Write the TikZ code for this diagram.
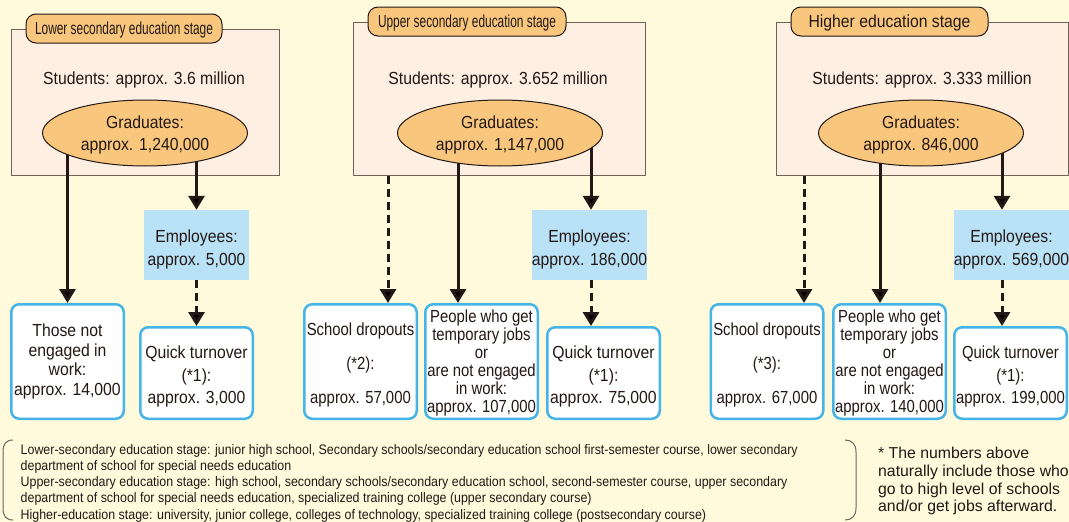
\documentclass[tikz,border=0pt]{standalone}
\usepackage{fontspec}
\setmainfont[FakeStretch=0.9]{Liberation Sans}
\newfontfamily\tagfont[FakeStretch=0.68]{Liberation Sans}
\newfontfamily\narrowfont[FakeStretch=0.85]{Liberation Sans}
\newfontfamily\notefont{Liberation Sans}
\usepackage{tikz}
\usetikzlibrary{shapes,arrows.meta,positioning,calc}
\definecolor{bgyellow}{HTML}{FFFADC}
\definecolor{stagefill}{HTML}{FDF0E3}
\definecolor{stageline}{HTML}{6E6259}
\definecolor{tagorange}{HTML}{F9C67E}
\definecolor{inkdark}{HTML}{231815}
\definecolor{empblue}{HTML}{BAE2F7}
\definecolor{resblue}{HTML}{45B5E8}
\pgfdeclarelayer{back}
\pgfdeclarelayer{mid}
\pgfsetlayers{back,mid,main}
% zero-width strut that lowers a block of lines
\newcommand{\padtop}[1]{\rule{0pt}{#1}}
\tikzset{
  stagebox/.style={draw=stageline,fill=stagefill,line width=1pt,minimum width=292pt,minimum height=153pt,inner sep=0pt},
  tagbox/.style={draw=inkdark,fill=tagorange,line width=1pt,rounded corners=10pt,minimum height=29pt,inner sep=0pt,text height=14pt,text depth=2pt,font=\tagfont\fontsize{17.5}{20}\selectfont},
  plain/.style={inner sep=0pt,font=\fontsize{17.5}{22}\selectfont},
  gradell/.style={ellipse,draw=inkdark,fill=tagorange,line width=1pt,minimum width=205pt,minimum height=66pt,inner sep=0pt,align=center,font=\fontsize{17.5}{22}\selectfont},
  empbox/.style={fill=empblue,minimum width=105pt,minimum height=70pt,inner sep=0pt,align=center,font=\fontsize{17.5}{23}\selectfont},
  resbox/.style={draw=resblue,fill=white,line width=2.5pt,rounded corners=8pt,minimum width=112.5pt,inner sep=0pt,align=center,font=\fontsize{17.5}{22.5}\selectfont},
  tallbox/.style={resbox,minimum height=114.5pt},
  lowbox/.style={resbox,minimum height=91.5pt},
  solidarr/.style={draw=inkdark,line width=3pt,-{Triangle[width=16pt,length=14pt]}},
  dasharr/.style={solidarr,dash pattern=on 8pt off 5pt},
}

\begin{document}
\begin{tikzpicture}[x=1pt,y=-1pt,color=inkdark]
  \useasboundingbox (0,0) rectangle (1069,522);

  % Background and stage frames
  \begin{pgfonlayer}{back}
    \fill[bgyellow] (0,0) rectangle (1069,522);
    \node[stagebox,minimum width=268pt,minimum height=146pt] (stgL) at (145,102) {};
    \node[stagebox] (stgU) at (499,98.5) {};
    \node[stagebox] (stgH) at (922,98.5) {};
  \end{pgfonlayer}

  % Stage tags
  \node[tagbox,anchor=west,minimum width=196pt] (tagL) at ([xshift=15pt]stgL.north west) {Lower secondary education stage};
  \node[tagbox,anchor=west,minimum width=198pt] (tagU) at ([xshift=15pt]stgU.north west) {Upper secondary education stage};
  \node[tagbox,anchor=west,minimum width=197pt,font=\fontsize{17.5}{20}\selectfont] (tagH) at ([xshift=15pt]stgH.north west) {Higher education stage};

  % Students
  \node[plain] (stuL) at (144,80) {Students: approx. 3.6 million};
  \node[plain] (stuU) at (498,80) {Students: approx. 3.652 million};
  \node[plain] (stuH) at (922,80) {Students: approx. 3.333 million};

  % Graduates
  \node[gradell] (gradL) at (145,133) {\padtop{17.5pt}Graduates:\\approx. 1,240,000};
  \node[gradell] (gradU) at (500,133) {\padtop{17.5pt}Graduates:\\approx. 1,147,000};
  \node[gradell] (gradH) at (921,133) {\padtop{17.5pt}Graduates:\\approx. 846,000};

  % Employees
  \node[empbox] (empL) at (196.5,245) {\padtop{22.5pt}Employees:\\approx. 5,000};
  \node[empbox] (empU) at (589.5,245) {\padtop{22.5pt}Employees:\\approx. 186,000};
  \node[empbox] (empH) at (1011.5,245) {\padtop{22.5pt}Employees:\\approx. 569,000};

  % Outcome boxes
  \node[tallbox,font=\fontsize{17.5}{19.5}\selectfont] (notwork) at (67.5,361.5) {Those not\\engaged in\\work:\\approx. 14,000};
  \node[lowbox] (quickL) at (196.5,373) {\padtop{20.5pt}Quick turnover\\(*1):\\approx. 3,000};

  \node[tallbox,font=\narrowfont\fontsize{17.5}{22}\selectfont] (dropU) at (360.5,361.5) {\padtop{20.5pt}School dropouts\\[12pt](*2):\\[12pt]approx. 57,000};
  \node[tallbox,font=\narrowfont\fontsize{17.5}{17.9}\selectfont] (peopleU) at (481.5,361.5) {\padtop{15.5pt}People who get\\temporary jobs\\or\\are not engaged\\in work:\\approx. 107,000};
  \node[lowbox] (quickU) at (603.5,373) {\padtop{20.5pt}Quick turnover\\(*1):\\approx. 75,000};

  \node[tallbox,font=\narrowfont\fontsize{17.5}{22}\selectfont] (dropH) at (767,361.5) {\padtop{20.5pt}School dropouts\\[12pt](*3):\\[12pt]approx. 67,000};
  \node[tallbox,font=\narrowfont\fontsize{17.5}{17.9}\selectfont] (peopleH) at (889.5,361.5) {\padtop{15.5pt}People who get\\temporary jobs\\or\\are not engaged\\in work:\\approx. 140,000};
  \node[lowbox,font=\narrowfont\fontsize{17.5}{22.5}\selectfont] (quickH) at (1010.5,373) {\padtop{20.5pt}Quick turnover\\(*1):\\approx. 199,000};

  % Arrow columns
  \coordinate (aU1) at (388,0);
  \coordinate (aU2) at (458,0);
  \coordinate (aU3) at (591,0);
  \coordinate (aH1) at (804,0);
  \coordinate (aH2) at (880,0);
  \coordinate (aH3) at (1002,0);

  \begin{pgfonlayer}{mid}
    \draw[solidarr] (notwork.north |- gradL.center) -- (notwork.north);
    \draw[solidarr] (empL.north |- gradL.center) -- (empL.north);
    \draw[dasharr] (empL.south) -- (quickL.north);

    \draw[dasharr] (aU1 |- stgU.south) -- (aU1 |- dropU.north);
    \draw[solidarr] (aU2 |- gradU.center) -- (aU2 |- peopleU.north);
    \draw[solidarr] (aU3 |- gradU.center) -- (aU3 |- empU.north);
    \draw[dasharr] (aU3 |- empU.south) -- (aU3 |- quickU.north);

    \draw[dasharr] (aH1 |- stgH.south) -- (aH1 |- dropH.north);
    \draw[solidarr] (aH2 |- gradH.center) -- (aH2 |- peopleH.north);
    \draw[solidarr] (aH3 |- gradH.center) -- (aH3 |- empH.north);
    \draw[dasharr] (aH3 |- empH.south) -- (aH3 |- quickH.north);
  \end{pgfonlayer}

  % Legend
  \draw[stageline,line width=1pt] (13,440) .. controls (6,440) and (3,444) .. (3,452) -- (3,508) .. controls (3,516) and (6,520) .. (13,520);
  \node[anchor=north west,inner sep=0pt,align=left,font=\fontsize{13.8}{16.25}\selectfont] (legend) at (20.5,444) {%
    Lower-secondary education stage: junior high school, Secondary schools/secondary education school first-semester course, lower secondary\\
    department of school for special needs education\\
    Upper-secondary education stage: high school, secondary schools/secondary education school, second-semester course, upper secondary\\
    department of school for special needs education, specialized training college (upper secondary course)\\
    Higher-education stage: university, junior college, colleges of technology, specialized training college (postsecondary course)};
  \draw[stageline,line width=1pt] (845,440) .. controls (852,440) and (856,444) .. (856,452) -- (856,508) .. controls (856,516) and (852,520) .. (845,520);
  \node[anchor=north west,inner sep=0pt,align=left,font=\notefont\fontsize{15.8}{17.7}\selectfont] (note) at (878,447) {%
    * The numbers above\\
    naturally include those who\\
    go to high level of schools\\
    and/or get jobs afterward.};
\end{tikzpicture}
\end{document}
